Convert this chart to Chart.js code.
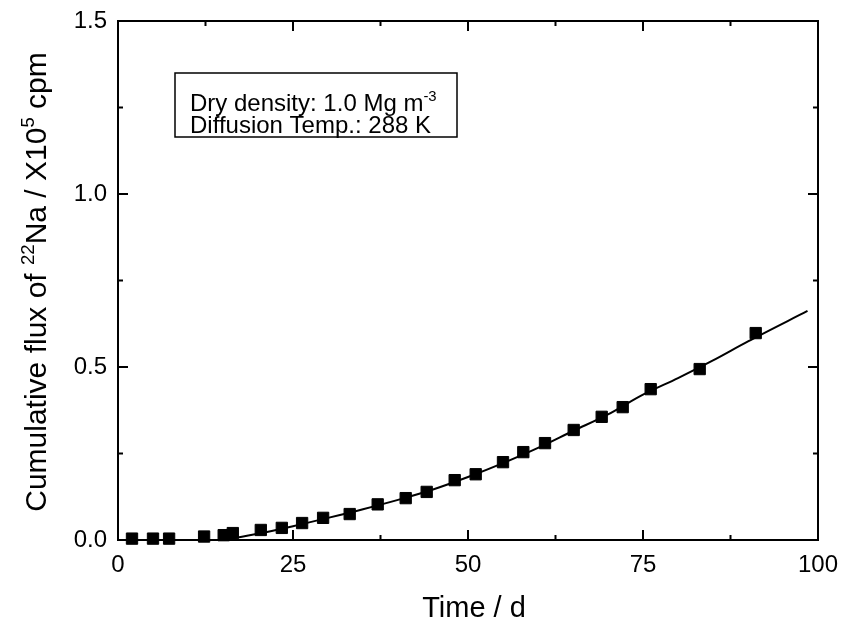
<!DOCTYPE html>
<html>
<head>
<meta charset="utf-8">
<script src="https://cdn.jsdelivr.net/npm/chart.js@4.4.1/dist/chart.umd.min.js"></script>
<style>
  body { margin: 0; background: #fff; }
  canvas { display: block; }
</style>
</head>
<body>
<canvas id="flux" width="843" height="626"></canvas>
<script>
// measured points (time in days, cumulative flux x10^5 cpm)
const days = [2, 5, 7.3, 12.3, 15.1, 16.4, 20.4, 23.4, 26.3, 29.3, 33.1, 37.1, 41.1, 44.1, 48.1,
  51.1, 55.0, 57.9, 61.0, 65.1, 69.1, 72.1, 76.1, 83.1, 91.1];
const flux = [0.004, 0.004, 0.004, 0.01, 0.014, 0.02, 0.029, 0.035, 0.049, 0.064, 0.075, 0.103, 0.121, 0.139, 0.173,
  0.19, 0.225, 0.254, 0.28, 0.318, 0.356, 0.384, 0.436, 0.494, 0.598];

// fitted curve
const fitDays = [15, 20, 25, 30, 35, 40, 45, 50, 55, 60, 65, 70, 75, 80, 85, 90, 98.5];
const fitFlux = [0, 0.018, 0.040, 0.064, 0.089, 0.116, 0.146, 0.182, 0.222, 0.266, 0.315, 0.363, 0.420, 0.468, 0.519, 0.574, 0.662];

const xTicks = [0, 25, 50, 75, 100];
const yTicks = [0.0, 0.5, 1.0, 1.5];
const xMinor = [12.5, 37.5, 62.5, 87.5];
const yMinor = [0.25, 0.75, 1.25];

const FONT = '"Liberation Sans", Arial, sans-serif';

function pairs(xs, ys) {
  return xs.map((x, i) => ({ x: x, y: ys[i] }));
}

// draw a run of text pieces, some of them raised (superscript)
function richText(c, parts, x, y, size, align) {
  let total = 0;
  parts.forEach(p => {
    c.font = (p.sup ? size * 0.62 : size) + 'px ' + FONT;
    p.w = c.measureText(p.t).width;
    total += p.w;
  });
  let cx = align === 'center' ? x - total / 2 : x;
  parts.forEach(p => {
    c.font = (p.sup ? size * 0.62 : size) + 'px ' + FONT;
    c.fillText(p.t, cx, p.sup ? y - size * 0.4 : y);
    cx += p.w;
  });
}

const framePlugin = {
  id: 'frame',
  afterDatasetsDraw(chart) {
    const c = chart.ctx;
    const a = chart.chartArea;
    const xs = chart.scales.x, ys = chart.scales.y;
    c.save();
    c.strokeStyle = '#000';
    c.lineWidth = 2;
    c.strokeRect(a.left, a.top, a.right - a.left, a.bottom - a.top);
    c.beginPath();
    // inward ticks on all four sides
    xTicks.concat(xMinor).forEach(v => {
      const len = xMinor.includes(v) ? 5 : 10;
      const px = xs.getPixelForValue(v);
      c.moveTo(px, a.bottom); c.lineTo(px, a.bottom - len);
      c.moveTo(px, a.top); c.lineTo(px, a.top + len);
    });
    yTicks.concat(yMinor).forEach(v => {
      const len = yMinor.includes(v) ? 5 : 10;
      const py = ys.getPixelForValue(v);
      c.moveTo(a.left, py); c.lineTo(a.left + len, py);
      c.moveTo(a.right, py); c.lineTo(a.right - len, py);
    });
    c.stroke();

    // info box
    c.fillStyle = '#fff';
    c.fillRect(175, 73, 282, 64);
    c.lineWidth = 1.5;
    c.strokeRect(175, 73, 282, 64);
    c.fillStyle = '#000';
    c.textAlign = 'left';
    c.textBaseline = 'alphabetic';
    richText(c, [{ t: 'Dry density: 1.0 Mg m' }, { t: '-3', sup: true }], 190, 111, 24, 'left');
    richText(c, [{ t: 'Diffusion Temp.: 288 K' }], 190, 133, 24, 'left');

    // axis titles
    richText(c, [{ t: 'Time / d' }], 474, 617, 29, 'center');
    c.translate(46, 282);
    c.rotate(-Math.PI / 2);
    richText(c, [
      { t: 'Cumulative flux of ' }, { t: '22', sup: true }, { t: 'Na / X10' },
      { t: '5', sup: true }, { t: ' cpm' }
    ], 0, 0, 30, 'center');
    c.restore();
  }
};

const fluxChart = new Chart(document.getElementById('flux'), {
  type: 'scatter',
  data: {
    datasets: [{
      label: 'fit',
      data: pairs(fitDays, fitFlux),
      showLine: true,
      borderColor: '#000',
      borderWidth: 2,
      pointRadius: 0,
      cubicInterpolationMode: 'monotone',
      clip: false
    }, {
      label: 'measured',
      data: pairs(days, flux),
      showLine: false,
      pointStyle: 'rect',
      pointRadius: 8,
      backgroundColor: '#000',
      borderColor: '#000',
      borderWidth: 1,
      clip: false
    }]
  },
  options: {
    responsive: false,
    animation: false,
    layout: { padding: { top: 21, right: 25, left: 0, bottom: 0 } },
    plugins: { legend: { display: false }, tooltip: { enabled: false } },
    scales: {
      x: {
        type: 'linear',
        min: 0,
        max: 100,
        afterFit(scale) {
          scale.height = 86;
          scale.paddingLeft = 0;
          scale.paddingRight = 0;
        },
        afterBuildTicks(scale) { scale.ticks = xTicks.map(v => ({ value: v })); },
        grid: { display: false, drawTicks: false },
        border: { display: false },
        ticks: { color: '#000', padding: 11, font: { family: FONT, size: 24 } }
      },
      y: {
        type: 'linear',
        min: 0,
        max: 1.5,
        afterFit(scale) {
          scale.width = 118;
          scale.paddingTop = 0;
          scale.paddingBottom = 0;
        },
        afterBuildTicks(scale) { scale.ticks = yTicks.map(v => ({ value: v })); },
        grid: { display: false, drawTicks: false },
        border: { display: false },
        ticks: {
          color: '#000',
          padding: 11,
          font: { family: FONT, size: 24 },
          callback: v => v.toFixed(1)
        }
      }
    }
  },
  plugins: [framePlugin]
});
</script>
</body>
</html>
